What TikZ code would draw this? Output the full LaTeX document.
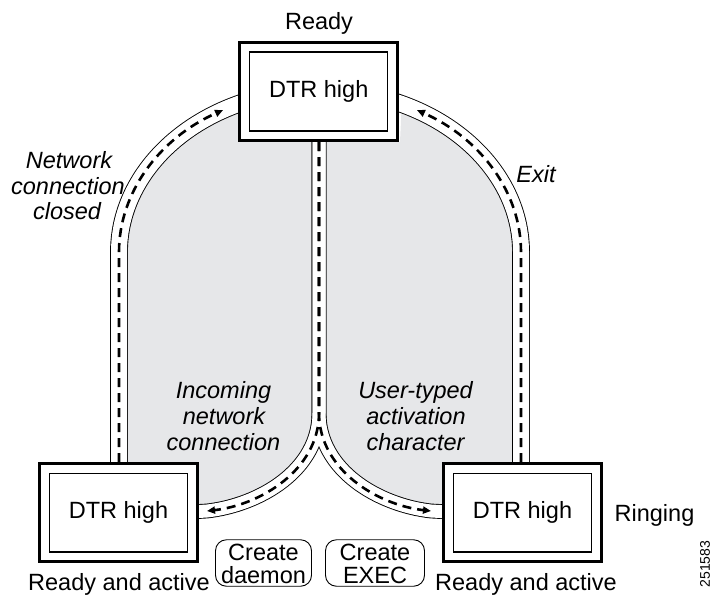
\documentclass[tikz,border=0pt]{standalone}
\usepackage{fontspec}
\setmainfont{Liberation Sans}
\usetikzlibrary{arrows.meta}
\definecolor{regiongray}{RGB}{230,231,233}
\tikzset{
  lbl/.style={font=\fontsize{23.5}{23.5}\selectfont, inner sep=0pt},
  ilbl/.style={font=\fontsize{23.5}{23.5}\selectfont\itshape, inner sep=0pt, anchor=base},
  blbl/.style={lbl, anchor=base},
  outerbox/.style={draw, line width=3.2pt, fill=white, minimum width=157.8pt, minimum height=97.8pt, inner sep=0pt},
  innerbox/.style={draw, line width=1.2pt, fill=white, minimum width=137.8pt, minimum height=78.8pt, inner sep=0pt, font=\fontsize{23.5}{23.5}\selectfont},
  actbox/.style={draw, line width=0.9pt, rounded corners=11pt, minimum height=46.5pt, inner sep=0pt},
  outblack/.style={line width=17.8pt, black},
  outwhite/.style={line width=16pt, white},
  midblack/.style={line width=14.8pt, black},
  midwhite/.style={line width=13pt, white},
  dashline/.style={line width=2.6pt, dash pattern=on 9pt off 6pt, -{Triangle[length=8pt,width=7pt]}},
}
\begin{document}
\begin{tikzpicture}[x=1pt,y=-1pt]
\useasboundingbox (0,0) rectangle (714,594);

% named coordinates
\coordinate (lbase) at (119,470);
\coordinate (lbend) at (119,252);
\coordinate (rbase) at (521,470);
\coordinate (rbend) at (521,252);
\coordinate (mtop) at (319,135);
\coordinate (msplit) at (319,413);
\coordinate (ltip) at (207,511);
\coordinate (rtip) at (431,511);

% gray regions
\fill[regiongray] (119,462) -- (lbend) arc[start angle=180, end angle=114, x radius=201pt, y radius=162pt]
  -- (238,142) -- (319,142) -- (msplit) .. controls (319,470) and (260,505) .. (ltip) -- (199,511) -- (199,462) -- cycle;
\fill[regiongray] (521,462) -- (rbend) arc[start angle=0, end angle=66, x radius=201pt, y radius=162pt]
  -- (400,142) -- (319,142) -- (msplit) .. controls (319,470) and (378,505) .. (rtip) -- (443,511) -- (443,462) -- cycle;

% track borders
\draw[outblack] (lbase) -- (lbend) arc[start angle=180, end angle=110, x radius=201pt, y radius=162pt];
\draw[outblack] (rbase) -- (rbend) arc[start angle=0, end angle=70, x radius=201pt, y radius=162pt];
\draw[midblack] (mtop) -- (msplit) .. controls (319,470) and (260,505) .. (ltip) -- (190,512);
\draw[midblack] (mtop) -- (msplit) .. controls (319,470) and (378,505) .. (rtip) -- (450,512);
\draw[outwhite] (lbase) -- (lbend) arc[start angle=180, end angle=110, x radius=201pt, y radius=162pt];
\draw[outwhite] (rbase) -- (rbend) arc[start angle=0, end angle=70, x radius=201pt, y radius=162pt];
\draw[midwhite] (mtop) -- (msplit) .. controls (319,470) and (260,505) .. (ltip) -- (190,512);
\draw[midwhite] (mtop) -- (msplit) .. controls (319,470) and (378,505) .. (rtip) -- (450,512);

% dashed flows
\draw[dashline] (119,462) -- (lbend) arc[start angle=180, end angle=118.85, x radius=201pt, y radius=162pt];
\draw[dashline] (521,462) -- (rbend) arc[start angle=0, end angle=61.15, x radius=201pt, y radius=162pt];
\draw[dashline] (319,142) -- (msplit) .. controls (319,470) and (260,505) .. (ltip);
\draw[dashline] (319,142) -- (msplit) .. controls (319,470) and (378,505) .. (rtip);

% state boxes
\node[outerbox] (topouter) at (318.75,91.5) {};
\node[innerbox] (topinner) at (topouter) {DTR high};
\node[outerbox] (lout) at (118.5,512.5) {};
\node[innerbox] (linner) at (lout) {DTR high};
\node[outerbox] (rout) at (522.5,512.5) {};
\node[innerbox] (rinner) at (rout) {DTR high};

% state labels
\node[blbl] (ready) at (319,30) {Ready};
\node[blbl] (lready) at (119,590) {Ready and active};
\node[blbl] (rready) at (526,590) {Ready and active};
\node[blbl] (ringing) at (654.5,521.5) {Ringing};
\node[font=\fontsize{14}{14}\selectfont, rotate=90, inner sep=0pt] (code) at (705,564) {251583};

% transition labels
\node[ilbl] (nc1) at (69,168) {Network};
\node[ilbl] (nc2) at (68,194) {connection};
\node[ilbl] (nc3) at (67,219) {closed};
\node[ilbl] (exit) at (536,182) {Exit};
\node[ilbl] (in1) at (223.5,398) {Incoming};
\node[ilbl] (in2) at (224,424) {network};
\node[ilbl] (in3) at (223.5,450) {connection};
\node[ilbl] (ut1) at (415.5,398) {User-typed};
\node[ilbl] (ut2) at (416,424) {activation};
\node[ilbl] (ut3) at (415.5,450) {character};

% action boxes
\node[actbox, minimum width=96pt] (daemonbox) at (263.5,563) {};
\node[blbl] (cd1) at (263.5,560.5) {Create};
\node[blbl] (cd2) at (263.5,583.5) {daemon};
\node[actbox, minimum width=99pt] (execbox) at (375,563) {};
\node[blbl] (ce1) at (375,560.5) {Create};
\node[blbl] (ce2) at (375,583.5) {EXEC};
\end{tikzpicture}
\end{document}
